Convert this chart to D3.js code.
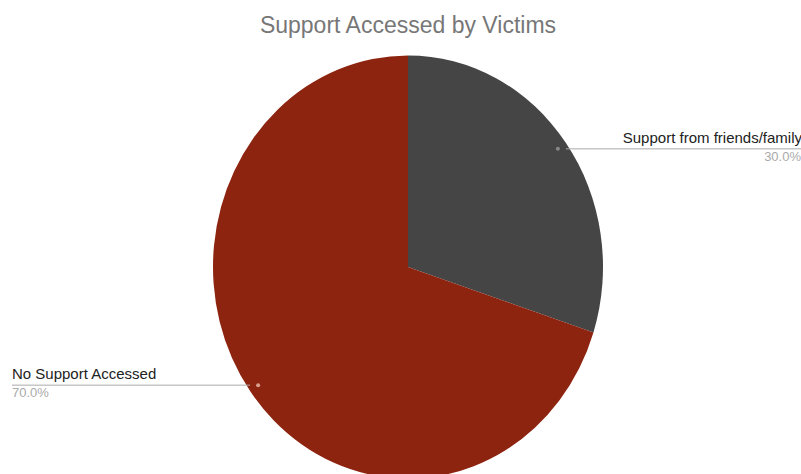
<!DOCTYPE html>
<html>
<head>
<meta charset="utf-8">
<script src="https://cdn.jsdelivr.net/npm/d3@7"></script>
<style>
  body { margin: 0; background: #fff; }
  text { font-family: "Liberation Sans", Arial, sans-serif; }
</style>
</head>
<body>
<div id="chart"></div>
<script>
const categories = ["Support from friends/family", "No Support Accessed"]
const values = [30, 70]
const colors = ["#454545", "#8d2410"]
const title = "Support Accessed by Victims"

const width = 801
const height = 474
const cx = 408, cy = 267
const radius = 195
const squash = 1.085 // picture is stretched vertically

const svg = d3.select("#chart")
  .append("svg")
  .attr("width", width)
  .attr("height", height)

svg.append("text")
  .attr("x", cx)
  .attr("y", 33)
  .attr("text-anchor", "middle")
  .attr("font-size", 23)
  .attr("fill", "#777")
  .text(title)

const data = categories.map((c, i) => ({ name: c, value: values[i], color: colors[i] }))
const total = d3.sum(values)

const pie = d3.pie().value(d => d.value).sort(null)
const arcs = pie(data)

const arc = d3.arc().innerRadius(0).outerRadius(radius)

svg.append("g")
  .attr("transform", `translate(${cx},${cy}) scale(1,${squash})`)
  .selectAll("path")
  .data(arcs)
  .enter()
  .append("path")
  .attr("d", arc)
  .attr("fill", d => d.data.color)

// label anchor points, slightly inside the rim
const anchor = d => {
  const a = (d.startAngle + d.endAngle) / 2
  const r = radius * 0.95
  return [cx + r * Math.sin(a), cy - r * Math.cos(a) * squash]
}

const labels = svg.append("g")

arcs.forEach(d => {
  const [x, y] = anchor(d)
  const right = x > cx
  const lineEnd = right ? width : 12
  labels.append("line")
    .attr("x1", right ? x + 8 : x - 8)
    .attr("x2", lineEnd)
    .attr("y1", y)
    .attr("y2", y)
    .attr("stroke", "#aaa")
    .attr("stroke-width", 1)
  labels.append("circle")
    .attr("cx", x)
    .attr("cy", y)
    .attr("r", 2)
    .attr("fill", right ? "#888" : "#d9a090")
  const tx = right ? width + 1 : 12
  const anchorTxt = right ? "end" : "start"
  labels.append("text")
    .attr("x", tx)
    .attr("y", y - 6)
    .attr("text-anchor", anchorTxt)
    .attr("font-size", 15)
    .attr("fill", "#222")
    .text(d.data.name)
  labels.append("text")
    .attr("x", right ? width : tx)
    .attr("y", y + 12)
    .attr("text-anchor", anchorTxt)
    .attr("font-size", 13)
    .attr("fill", "#aaa")
    .text((d.data.value / total * 100).toFixed(1) + "%")
})
</script>
</body>
</html>
